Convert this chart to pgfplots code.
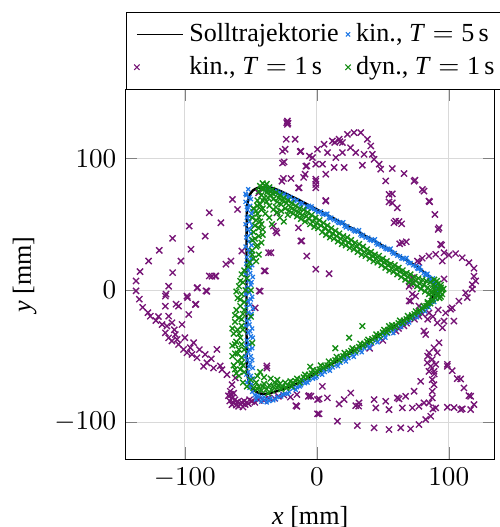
\documentclass[border=0pt]{standalone}
\usepackage{fontspec}
\setmainfont{Liberation Serif}
\usepackage{pgfplots}
\pgfplotsset{compat=1.18}
\usetikzlibrary{calc}
\definecolor{kinfive}{RGB}{30,120,230}
\definecolor{kinone}{RGB}{118,20,118}
\definecolor{dynone}{RGB}{20,140,20}
\pgfplotsset{narrowmark/.style={legend image code/.code={%
  \draw[##1] plot coordinates {(0cm,0cm)};}}}

\begin{document}
\fontsize{9.6}{11.5}\selectfont
\begin{tikzpicture}
\begin{axis}[
  width=136pt, height=136pt, scale only axis,
  xmin=-145, xmax=135, ymin=-128, ymax=152,
  xtick={-100,0,100}, ytick={-100,0,100},
  grid=major, grid style={gray!30},
  xlabel={\textit{x} [mm]}, ylabel={\textit{y} [mm]},
  legend columns=2,
  legend cell align=left,
  legend style={at={(0,1)}, anchor=south west, draw=black, fill=white,
                /tikz/every even column/.append style={column sep=0.5pt}},
]
\addlegendimage{black, line width=0.5pt, mark=none}
\addlegendentry{Solltrajektorie}
\addlegendimage{only marks, mark=x, mark size=1.1pt, kinfive, narrowmark}
\addlegendentry{kin., \textit{T}${}={}$5\,s}
\addlegendimage{only marks, mark=x, mark size=1.4pt, kinone, narrowmark}
\addlegendentry{kin., \textit{T}${}={}$1\,s}
\addlegendimage{only marks, mark=x, mark size=1.4pt, dynone, narrowmark}
\addlegendentry{dyn., \textit{T}${}={}$1\,s}

% kin., T = 1 s
\addplot[forget plot, only marks, mark=x, mark size=1.6pt, kinone, mark options={line width=0.5pt}] coordinates {
(-22.3,128.2) (-22.8,127) (-21.8,126.5) (-22.3,125.7) (-23.2,114.4) (-16.4,114.4) (-24,106.8) (-12.6,105)
(-24.8,97.2) (-7.6,94.2) (-8.9,87.9) (-10,85.5) (-25.3,84.7) (-19.6,84.7) (-5.6,101.7) (-26,96.4)
(-26,105.3) (-12.1,105.3) (-8.3,94) (-13.4,77.6) (-0.8,82.6) (-0.8,77.6) (6.8,67.5) (-26.5,82.6)
(-13.9,77.6) (-44.2,73.8)
(28.2,119.4) (33.3,119.4) (23.2,118.1) (38.3,114.4) (16.9,114.4) (19.4,111.9) (11.8,113.1) (5.5,110.6)
(0.5,106.8) (8.1,104.3) (19.4,104.3) (29.5,104.3) (35.8,103) (42.1,103) (40.9,109.3) (-3.3,100.5)
(14.4,100.5) (43.4,99.2) (47.2,95.5) (48.4,91.7) (57.2,92.2) (34.5,94.7) (20.7,93) (13.1,93)
(4.3,95.5) (-0.8,95.5) (6.8,87.9) (-0.8,84.1) (52.2,82.8) (66.1,88.4) (74.4,83.4) (17.5,112.5)
(13.5,112) (25.5,108)
(-0.8,80.1) (81.2,75.1) (57.2,73) (54.7,67) (61,62.4) (85.5,67) (89.5,57.4) (58.5,51.1)
(64.3,50.3) (92,46.1) (6.8,68) (94.6,34.2) (62.8,35.2) (67.8,36.7) (96.4,28.4) (90.1,27.2)
(85,25.9) (79.9,24.2) (76.2,22.1) (105.2,27.7) (110.2,24.6) (115.3,20.9) (119.1,16.6) (100.1,26.7)
(95.1,22.1) (-0.8,15.9) (9.3,12.5) (54.7,72.6) (57.2,66.2) (59.7,52.4) (80,76.3) (73.7,82.6)
(85,67.5) (92.6,47.3) (93.8,34.8)
(96.4,8.5) (120.4,7) (119.1,10.6) (117.8,4.2) (112.8,-2) (107.7,-8.3) (102.6,-13.4) (97.6,-17.2)
(103.9,-23.4) (96.4,-23.4) (91.3,-24.7) (95.2,-28.5) (69.9,3) (72.4,5.5) (74.9,-4.5) (71.1,-8.3)
(77.4,-12.1) (85,-17.2) (81.2,-31) (82.5,-33.6) (92.6,-39.8) (88.8,-43.6) (85,-47.4) (91.3,-47.4)
(87.5,-52.5) (83.7,-55) (98.9,-56.2) (90.1,-56.2) (72.4,9.5) (77.4,20.9) (71.1,4.5) (72.4,-3)
(70,-8.1) (64.8,36) (62.3,52) (101.4,-14.4) (114,-5.6) (117.8,0.8) (88,-20) (92,-15)
(80,-18) (84,-22) (77.4,-19.7) (74,-22) (68,-25) (62,-29) (40,-44) (50,-38)
(60,-31) (66,-27)
(4.2,-72.9) (0.5,-82.9) (8,-81.6) (0.5,-93.7) (-4.5,-80.4) (16.9,-86.2) (20.7,-82.9) (25.7,-77.9)
(32,-85.4) (31.7,-87.9) (15.6,-99.3) (30.7,-102.6) (43.4,-104.3) (54.7,-105.6) (63.6,-104.3) (71.1,-105.1)
(77.4,-101.8) (82.5,-98) (86.3,-95.5) (43.4,-82.9) (44.7,-89.2) (52.2,-84.2) (54.7,-90.5) (61,-81.6)
(64.8,-89.2) (67.3,-80.4) (73.7,-76.6) (72.4,-89.2) (77.4,-88) (81.2,-85.4) (78.7,-69.1) (85,-61.5)
(88.8,-61.5) (87.5,-67.8) (88.8,-71.6) (87.5,-76.6) (87.5,-81.6) (85,-85.4) (90.1,-89.2) (86.3,-57.7)
(98.9,-57.7) (98.9,-88.7) (106.4,-67) (111.5,-74.1) (116.6,-80.4) (119.1,-86.7) (116.6,-90.5) (109,-90.5)
(104,-89) (-15.9,-87.5) (1.7,-82.4) (-5.8,-79.9) (29.5,-87.5) (62.3,-82.4) (110.2,-89.9) (115.3,-79.9)
(109,-67.3) (102.6,-61) (1.7,-93.7) (88,-90) (84,-50) (89,-63.5)
(-85.8,-57.7) (-78.3,-59) (-71.9,-60.2) (-68.1,-64) (-61.8,-66.5) (-64.3,-71.6) (-65.6,-76.6) (-64.3,-81.6)
(-64.3,-86.7) (-59.3,-88) (-54.3,-86.7) (-49.2,-84.2) (-44.2,-82.9) (-36.6,-81.6) (-29.1,-80.4) (-15.1,-79.1)
(-15.1,-88) (-6.4,-80.4) (-37.9,-59) (-66,-84) (-63,-85.5) (-61,-87) (-58,-86) (-56,-88.5)
(-62,-83) (-60,-84.5) (-57,-85) (-55,-84) (-52,-86) (-67,-80) (-65,-79) (-63,-78)
(-51,-83) (-47,-85) (-40,-83.5) (-32,-82) (-25,-79.5) (-20,-81)
(-63.9,68.8) (-60.1,61.2) (-81.5,58.7) (-72.7,51.1) (-96.7,48.6) (-84.6,41) (-109.3,39.3) (-119.4,30.2)
(-95.4,31) (-127.5,22.1) (-103,22.1) (-65.1,22.1) (-68.9,19.7) (-134,14.1) (-109.3,13.3) (-76.5,10.8)
(-81.5,10.8) (-137,7) (-90.4,2) (-114.3,-3) (-137,-0.5) (-134.5,-6.8) (-106.7,-10.6) (-91.6,-10.6)
(-84,-0.5) (-98,-5.6) (-132,-13) (-126.2,-19.7) (-112.3,3) (-114.8,-4.5) (-114.8,-12.1) (-112.3,-19.7)
(-117.3,-26) (-113.6,-27.2) (-109.8,-24.7) (-104.8,-12.1) (-98.4,-4.5) (-90.8,1.7) (-83.3,-0.8) (-92.1,-10.9)
(-97.1,-18.4) (-102.2,-26) (-114.8,-32.3) (-112.3,-36.1) (-107.2,-33.6) (-105.9,-37.3) (-109.8,-38.5) (-104.8,-41.1)
(-101,-44.9) (-98.4,-47.4) (-93.4,-39.8) (-95.9,-43.6) (-94.6,-48.7) (-90.8,-51.2) (-84.6,-48.7) (-83.3,-55)
(-75.7,-44.9) (-73.2,-57.4) (-42.9,-0.8) (-46.7,-13.4) (-37.9,-57.4) (-79.5,10.6) (-77,10.6) (-56.8,29.7)
(-36.6,28.4) (-32.9,48.6) (-30.3,43.5) (-30.3,58.7) (-11.4,37.3) (-7.6,25.9) (-39.1,14.6) (-13.9,47.3)
(-31.1,44.8) (-12.1,37.3) (-34.8,28.4) (-39.9,14.6) (-43.7,-0.5) (-120,-20) (-122,-23) (-108,-30)
(-100,-36) (-89,-45) (-80,-52) (-128,-17)
};

% kin., T = 5 s
\addplot[forget plot, only marks, mark=x, mark size=1.05pt, kinfive, mark options={line width=0.45pt}] coordinates {
(-38,76.2) (-35,75.9) (-32,74.3) (-30,75.1) (-27,73.2) (-25,72.8) (-22,70.1) (-20,70.6)
(-18,68.8) (-15,68.2) (-13,66.1) (-11,65.9) (-8,63.7) (-6,63.9) (-4,61.8) (-2,61.5)
(1,59.2) (3,59.6) (5,57.4) (7,57.3) (9,55.1) (11,55.0) (13,53.2) (15,52.6)
(17,51.0) (19,50.6) (21,48.7) (23,48.5) (25,46.6) (27,46.3) (29,44.6) (31,44.3)
(33,42.2) (35,41.8) (37,39.9) (39,39.8) (41,37.8) (43,37.4) (45,35.7) (47,35.1)
(49,33.2) (51,32.9) (53,31.0) (55,30.6) (57,28.8) (59,28.1) (61,26.2) (63,25.7)
(65,23.8) (67,23.4) (69,21.4) (71,20.6) (73,18.9) (75,18.2) (77,16.1) (79,14.8)
(81,13.0) (83,11.6) (85,9.8) (87,8.0) (89,6.2) (90,4.0) (91,2.0) (92,0.3)
(91.5,-1.5) (90.5,-3.5) (-4,63.5) (8,58) (20,51.5) (32,45.5) (44,38.5) (56,31.5)
(68,24.5) (78,17.5) (84,12.5) (88,9)
(-36,77.5) (-29,73.8) (-23,71.8) (-17,67.4) (-12,65) (-7,62.6) (-1,60.0) (4,57.9)
(10,54.3) (16,51.4) (22,47.6) (28,45.2) (34,41.0) (40,38.3) (46,34.5) (52,31.6)
(58,27.6) (64,24.3) (70,20.4) (76,16.6) (82,11.8) (86,8.2) (89,4.5) (91,1)
(-52,76.5) (-53.5,72) (-51,70.5) (-54,67) (-50.5,64) (-52.5,61) (-49.5,58) (-53,55)
(-51,52) (-49,49) (-52.5,46) (-50,43) (-53.5,40) (-51.5,37) (-49.5,34) (-52,31)
(-50,28) (-53,25) (-51,22) (-49,19) (-52.5,16) (-50.5,13) (-48.5,10) (-52,7)
(-50,4) (-53,1) (-51,-2) (-49,-5) (-52.5,-8) (-50.5,-11) (-48.5,-14) (-52,-17)
(-50,-20) (-53,-23) (-51,-26) (-49,-29) (-52,-32) (-50,-35) (-53,-38) (-51,-41)
(-49,-44) (-52,-47) (-50,-50) (-52.5,-53) (-50.5,-56) (-48.5,-59) (-52,-62) (-50,-65)
(-51.5,-68) (-49.5,-71) (-51,-74)
(-54,73) (-50,69) (-53,63) (-49,60) (-51.5,56) (-54,50) (-50,46) (-52,41)
(-48.5,38) (-54,33) (-51,29) (-49.5,24) (-53.5,20) (-50.5,17) (-54,12) (-49.5,6)
(-52,2) (-54,-3) (-50,-7) (-53.5,-13) (-49.5,-18) (-51.5,-22) (-54,-27) (-50.5,-31)
(-48.5,-36) (-53.5,-42) (-51,-45) (-54,-50) (-49,-53) (-51.5,-58) (-53.5,-64) (-48.5,-67)
(-53,-70) (-50,-73)
(-49,-77) (-47,-79.5) (-44,-81) (-41,-82) (-38,-82.5) (-35,-82) (-46,-83) (-42,-84.5)
(-38,-85) (-33,-83.5) (-30,-81) (-27,-80.5) (-24,-78.5)
(-21,-77) (-18,-74.5) (-15,-73.5) (-12,-72) (-9,-70.5) (-6,-68) (-3,-67) (0,-65.5)
(3,-63) (6,-62) (9,-60) (12,-58.5) (15,-56.5) (18,-55) (21,-52.5) (24,-51.5)
(27,-49) (30,-48) (33,-45.5) (36,-44) (39,-42) (42,-40.5) (45,-38) (48,-37)
(51,-34.5) (54,-33) (57,-31) (60,-29.5) (63,-27) (66,-25.5) (69,-23) (72,-21.5)
(75,-19.5) (78,-17.5) (81,-15) (84,-12.5) (86,-10) (88,-8) (90,-5.5) (91,-3)
(-10,-68.5) (5,-60.5) (20,-51) (35,-42) (50,-33) (65,-24) (80,-13.5)
(-45,-80) (-40,-81) (-36,-84) (-31,-82.5) (-26,-79) (-22,-78.5) (-16,-75.5) (-13,-73)
(-7,-70) (-1,-66.5) (4,-64) (10,-61) (16,-57.5) (22,-54) (28,-50.5) (34,-47)
(40,-43.5) (46,-39.5) (52,-36) (58,-32.5) (64,-28) (70,-24.5) (76,-20.5) (82,-16)
(85,-13) (89,-9) (92,-2) (93,1)
};

% dyn., T = 1 s
\addplot[forget plot, only marks, mark=x, mark size=1.45pt, dynone, mark options={line width=0.5pt}] coordinates {
(-41,81) (-38,80.5) (-43,79) (-36,78) (-40,77) (-44,75) (-34,76) (-38,74)
(-42,72) (-31,74) (-35,72) (-40,70) (-45,68) (-28,72) (-33,69) (-38,67)
(-43,65) (-25,70) (-30,67) (-36,64) (-41,62) (-46,60) (-22,68) (-27,65)
(-33,61) (-39,58) (-44,55) (-19,66) (-24,62) (-30,59) (-36,55) (-42,50)
(-16,64) (-21,60) (-28,55) (-34,50) (-13,62) (-18,58) (-25,52) (-10,61)
(-15,56) (-7,59) (-12,54) (-4,57) (-9,52) (-1,55) (-5,50) (2,53)
(-2,48) (5,51) (1,47) (8,49) (4,44) (11,47) (7,42) (14,45)
(10,40) (17,43) (13,39) (20,41) (16,37) (23,40) (19,35) (26,38)
(22,34) (29,36) (25,32) (32,35) (28,31) (35,33) (31,29) (38,31)
(34,27) (41,29) (37,26) (44,27) (40,24) (47,26) (43,22) (50,24)
(46,21) (53,22) (49,19) (56,20) (52,17) (59,19) (55,15) (62,17)
(58,14) (65,15) (61,12) (68,13) (64,10) (71,12) (67,8) (74,10)
(70,6) (77,9) (73,5) (80,8) (76,3) (83,7) (79,1) (86,6)
(82,-1) (88,4) (85,-3) (90,3) (87,-2) (92,5) (94,2) (93,-1)
(95,0) (91,-4) (89,1) (92,-3) (94,-5) (90,-6) (87,-8) (84,-9)
(-39,79) (-37,76) (-42,77) (-35,74.5) (-33,73) (-41,68) (-37,70) (-29,70)
(-26,68) (-23,66) (-31,63) (-27,60) (-20,63) (-17,61) (-22,57) (-14,59)
(-11,57) (-8,56) (-6,54) (-3,52) (0,51) (3,49) (6,47) (9,45)
(12,43) (15,41) (18,39) (21,38) (24,36) (27,34) (30,33) (33,31)
(36,29) (39,28) (42,26) (45,24) (48,23) (51,21) (54,19) (57,17)
(60,16) (63,14) (66,12) (69,10) (72,8) (75,7) (78,5) (81,4)
(84,2) (86,0) (88,-3) (90,-1) (92,1) (94,4) (96,1) (95,-3)
(93,-6) (91,7) (89,8)
(-48,62) (-45,58) (-49,55) (-43,52) (-47,49) (-41,46) (-48,44) (-44,41)
(-49,38) (-42,36) (-46,33) (-49,30) (-44,27) (-48,24) (-51,21) (-45,64)
(-42,61) (-46,53) (-44,47) (-41,42) (-47,39) (-45,34) (-49,27) (-46,22)
(-52,18) (-55,15) (-57,12) (-53,9) (-56,6) (-59,3) (-54,0) (-57,-3)
(-60,-6) (-55,-9) (-58,-12) (-61,-15) (-56,-18) (-59,-21) (-62,-24) (-57,-27)
(-60,-30) (-63,-33) (-58,-36) (-61,-39) (-64,-42) (-59,-45) (-62,-48) (-57,-51)
(-60,-54) (-63,-57) (-58,-60) (-61,-63) (-56,-57) (-55,-45) (-56,-30) (-55,-15)
(-58,7) (-61,-1) (-58,-7) (-62,-19) (-57,-22) (-64,-29) (-59,-33) (-62,-41)
(-57,-41) (-64,-50) (-60,-48) (-57,-55) (-62,-60) (-59,-65) (-55,-62) (-49,-40)
(-50,-20) (-50,0)
(-50,-68) (-46,-70) (-48,-74) (-44,-73) (-42,-76) (-40,-71) (-38,-75) (-36,-72)
(-34,-76) (-32,-70) (-30,-74) (-28,-71) (-26,-73) (-45,-65) (-40,-66) (-35,-67)
(-30,-68) (-24,-70) (-22,-72) (-20,-69) (-43,-62) (-56,-70) (-53,-73)
(-45,-75) (-41,-73) (-37,-78) (-33,-73) (-29,-72) (-27,-75) (-23,-74) (-19,-73)
(-18,-70) (-15,-67) (-12,-67.5) (-9,-64) (-6,-64) (-3,-60.5) (0,-61) (3,-57)
(6,-57.5) (9,-54) (12,-54) (15,-50.5) (18,-51) (21,-47.5) (24,-47) (27,-44)
(30,-44.5) (33,-40.5) (36,-40.5) (39,-37.5) (42,-37) (45,-33.5) (48,-33.5) (51,-30)
(54,-30) (57,-26.5) (60,-26.5) (63,-23) (66,-23) (69,-19.5) (72,-19) (75,-16)
(78,-15) (81,-12) (84,-10)
(-16,-69) (-13,-70) (-10,-66) (-7,-66) (-4,-63) (-1,-63) (2,-60) (5,-59)
(8,-57) (11,-56) (14,-53) (17,-53) (20,-50) (23,-49) (26,-46) (29,-46)
(32,-43) (35,-42) (38,-39) (41,-39) (44,-36) (47,-35) (50,-32) (53,-32)
(56,-29) (59,-28) (62,-25) (65,-25) (68,-22) (71,-21) (74,-18) (77,-17)
(80,-14) (83,-12) (86,-10) (88,-7)
(24.5,-36) (34.5,-27.2) (54.7,-27.2) (14,-44) (-5,-58)
};

% Solltrajektorie
\addplot[forget plot, black, line width=0.9pt, mark=none, smooth, tension=0.4] coordinates {
(89.5,1) (88.5,5) (86,9) (82,12.8) (77,16.8) (70,21.5) (60,27.5) (48,34.8)
(36,41.5) (24,48.3) (12,54.8) (0,61.2) (-10,66.5) (-20,71.5) (-28,75.3) (-34,77.5)
(-40,78.2) (-45,77.5) (-48.5,75.5) (-51,72) (-52.5,66) (-53,58) (-53.2,45) (-53.3,30)
(-53.3,10) (-53.3,-10) (-53.3,-30) (-53.2,-45) (-53,-58) (-52.3,-66) (-50.5,-72) (-47.5,-76)
(-43,-78.3) (-38,-78.5) (-32,-77) (-24,-74.5) (-12,-69.5) (0,-62.5) (12,-55.5) (24,-48.3)
(36,-41) (48,-33.7) (60,-26.5) (70,-20.3) (77,-16) (82,-12.3) (85.5,-8.5) (88,-4.5)
(89.3,-1.5) (89.5,1)
};
\end{axis}
\coordinate (bbne) at (current bounding box.north east);
\pgfresetboundingbox
\path[use as bounding box] ($(current axis.south west)+(-46.2pt,-25pt)$)
  rectangle ($(current axis.east |- bbne)+(1.8pt,4.4pt)$);
\end{tikzpicture}
\end{document}
